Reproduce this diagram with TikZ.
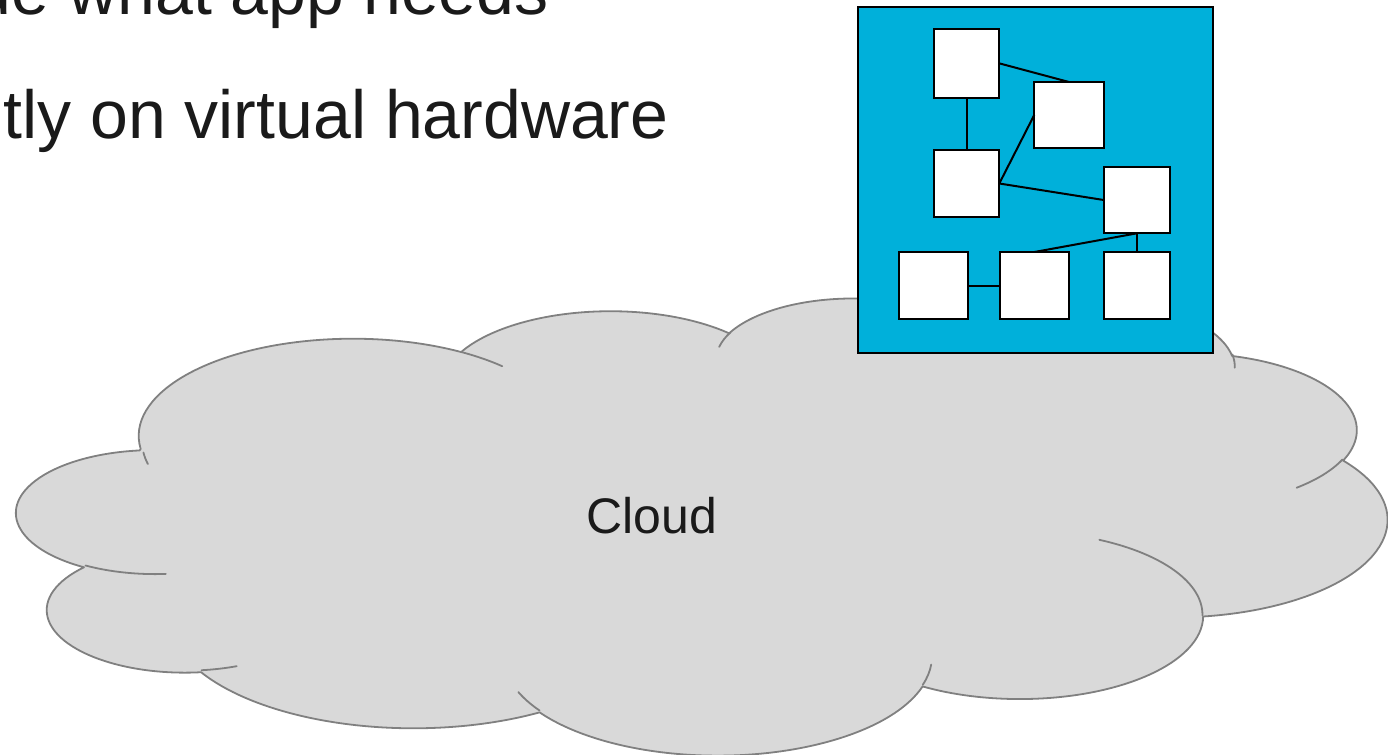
\documentclass[tikz,border=0pt]{standalone}
\usepackage{fontspec}
\setmainfont{Liberation Sans}

\definecolor{vmblue}{RGB}{0,176,218}
\definecolor{cloudfill}{RGB}{217,217,217}
\definecolor{cloudedge}{RGB}{128,128,128}
\definecolor{inktext}{RGB}{26,26,26}

% Parametric start/end angles of an elliptical arc given by
% radii (wR,hR), geometric start angle and sweep (degrees).
\newcommand\prepArc[6]{%
  \pgfmathsetmacro#1{atan2((#3)*sin(#5),(#4)*cos(#5))}%
  \pgfmathsetmacro#2{atan2((#3)*sin((#5)+(#6)),(#4)*cos((#5)+(#6)))}%
  \pgfmathsetmacro#2{#2<#1 ? #2+360 : #2}%
}

\begin{document}
\begin{tikzpicture}[x=0.5pt,y=-0.5pt,
  cloudbody/.style={fill=cloudfill, draw=cloudedge, line width=0.9pt, line join=round},
  cloudline/.style={draw=cloudedge, line width=0.9pt, line cap=round},
  headline/.style={font=\fontsize{34pt}{40pt}\selectfont, text=inktext, inner sep=0pt, anchor=base east},
  vmbox/.style={draw=black, fill=vmblue, line width=1pt, inner sep=0pt, outer sep=0pt},
  cell/.style={draw=black, fill=white, line width=1pt, inner sep=0pt, outer sep=0pt},
  wire/.style={draw=black, line width=1pt}]

\clip (0,0) rectangle (1388,755);

% outline arcs of the cloud (radii in shape units / 100)
\prepArc\cldSa\cldEa{67.53}{91.90}{-190.4875}{123.7805}
\prepArc\cldSb\cldEb{53.33}{72.67}{-144.1024}{89.9452}
\prepArc\cldSc\cldEc{43.65}{59.45}{-145.8079}{99.7230}
\prepArc\cldSd\cldEd{48.57}{65.95}{-130.9861}{117.2417}
\prepArc\cldSe\cldEe{53.33}{72.73}{-78.7089}{109.0269}
\prepArc\cldSf\cldEf{67.75}{92.20}{-46.2673}{130.2690}
\prepArc\cldSg\cldEg{57.85}{78.67}{0.6250}{114.0333}
\prepArc\cldSh\cldEh{67.52}{92.15}{22.4516}{115.1726}
\prepArc\cldSi\cldEi{77.20}{105.43}{66.2426}{75.7110}
\prepArc\cldSj\cldEj{43.60}{59.18}{-274.9421}{146.7356}
\prepArc\cldSk\cldEk{43.45}{59.45}{-246.8285}{152.5189}
% inner fold lines of the cloud
\prepArc\tkSa\tkEa{43.45}{59.45}{86.7420}{26.4295}
\prepArc\tkSb\tkEb{43.60}{59.18}{73.6105}{11.4475}
\prepArc\tkSc\tkEc{67.52}{92.15}{137.6242}{14.0811}
\prepArc\tkSd\tkEd{67.52}{92.15}{6.4533}{15.9984}
\prepArc\tkSe\tkEe{57.85}{78.67}{-70.2924}{70.9174}
\prepArc\tkSf\tkEf{53.33}{72.73}{30.3180}{27.7515}
\prepArc\tkSg\tkEg{48.57}{65.95}{-13.7443}{14.8589}
\prepArc\tkSh\tkEh{48.57}{65.95}{-149.1815}{18.1954}
\prepArc\tkSi\tkEi{43.65}{59.45}{-163.4943}{17.6864}
\prepArc\tkSj\tkEj{67.53}{91.90}{-66.7070}{12.3194}
\prepArc\tkSk\tkEk{67.53}{91.90}{162.0469}{9.1126}

\begin{scope}[shift={(17,297)}, x=1.585648pt, y=-0.528935pt]
  \path[cloudbody] (39.00,143.70)
    arc[x radius=67.53, y radius=91.90, start angle=\cldSa, end angle=\cldEa]
    arc[x radius=53.33, y radius=72.67, start angle=\cldSb, end angle=\cldEb]
    arc[x radius=43.65, y radius=59.45, start angle=\cldSc, end angle=\cldEc]
    arc[x radius=48.57, y radius=65.95, start angle=\cldSd, end angle=\cldEd]
    arc[x radius=53.33, y radius=72.73, start angle=\cldSe, end angle=\cldEe]
    arc[x radius=67.75, y radius=92.20, start angle=\cldSf, end angle=\cldEf]
    arc[x radius=57.85, y radius=78.67, start angle=\cldSg, end angle=\cldEg]
    arc[x radius=67.52, y radius=92.15, start angle=\cldSh, end angle=\cldEh]
    arc[x radius=77.20, y radius=105.43, start angle=\cldSi, end angle=\cldEi]
    arc[x radius=43.60, y radius=59.18, start angle=\cldSj, end angle=\cldEj]
    arc[x radius=43.45, y radius=59.45, start angle=\cldSk, end angle=\cldEk]
    -- cycle;
  \path[cloudline]
    (46.93,261.77) arc[x radius=43.45, y radius=59.45, start angle=\tkSa, end angle=\tkEa]
    (69.28,348.99) arc[x radius=43.60, y radius=59.18, start angle=\tkSb, end angle=\tkEb]
    (164.78,390.90) arc[x radius=67.52, y radius=92.15, start angle=\tkSc, end angle=\tkEc]
    (288.27,347.51) arc[x radius=67.52, y radius=92.15, start angle=\tkSd, end angle=\tkEd]
    (341.29,229.54) arc[x radius=57.85, y radius=78.67, start angle=\tkSe, end angle=\tkEe]
    (417.98,153.54) arc[x radius=53.33, y radius=72.73, start angle=\tkSf, end angle=\tkEf]
    (383.24,54.26) arc[x radius=48.57, y radius=65.95, start angle=\tkSg, end angle=\tkEg]
    (290.78,39.52) arc[x radius=48.57, y radius=65.95, start angle=\tkSh, end angle=\tkEh]
    (221.41,47.20) arc[x radius=43.65, y radius=59.45, start angle=\tkSi, end angle=\tkEi]
    (140.00,51.92) arc[x radius=67.53, y radius=91.90, start angle=\tkSj, end angle=\tkEj]
    (41.27,157.89) arc[x radius=67.53, y radius=91.90, start angle=\tkSk, end angle=\tkEk];
\end{scope}

\node[font=\fontsize{25pt}{30pt}\selectfont, text=inktext, inner sep=0pt, anchor=base] (label) at (652,533) {Cloud};

% heading lines
\node[headline] (lineA) at (549,15) {de what app needs};
\node[headline] (lineB) at (669,138) {tly on virtual hardware};

% virtual machine with its components
\node[vmbox, minimum width=177.35pt, minimum height=172.85pt] (vm) at (1035.35,179.85) {};

\node[cell, minimum width=32.8pt, minimum height=34.35pt] (A) at (966.5,63.35) {};
\node[cell, minimum width=34.7pt, minimum height=32.85pt] (B) at (1069,114.85) {};
\node[cell, minimum width=32.8pt, minimum height=33.8pt] (C) at (966.5,183.5) {};
\node[cell, minimum width=33.3pt, minimum height=33.3pt] (D) at (1137,200) {};
\node[cell, minimum width=34.5pt, minimum height=33.5pt] (E) at (933.2,285.5) {};
\node[cell, minimum width=34.65pt, minimum height=33.5pt] (F) at (1034.35,285.5) {};
\node[cell, minimum width=33.3pt, minimum height=33.5pt] (G) at (1137,285.5) {};

\draw[wire] (A.east) -- (B.north);
\draw[wire] (A.south) -- (C.north);
\draw[wire] (C.east) -- (B.west);
\draw[wire] (C.east) -- (D.west);
\draw[wire] (D.south) -- (F.north);
\draw[wire] (D.south) -- (G.north);
\draw[wire] (E.east) -- (F.west);

\end{tikzpicture}
\end{document}
